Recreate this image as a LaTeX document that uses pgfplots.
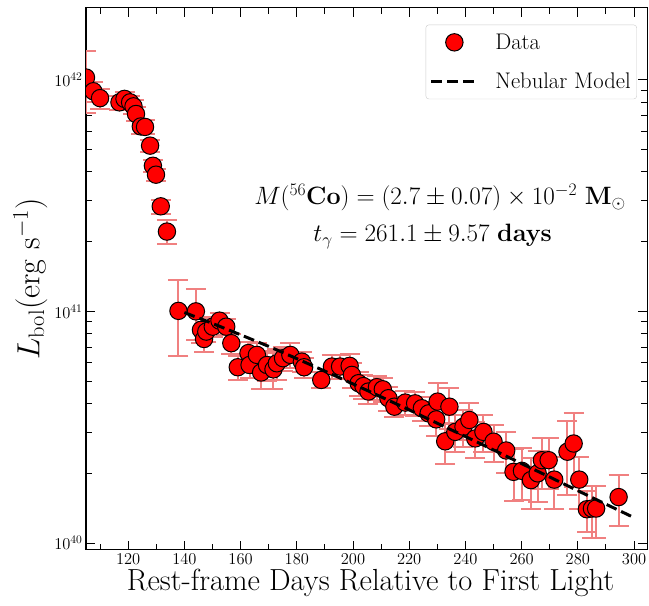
\documentclass[border=0pt]{standalone}
\usepackage{fix-cm}
\usepackage{pgfplots}
\usepackage{pgfplotstable}
\pgfplotsset{compat=1.18}
\pgfplotsset{clip marker paths=true}
\definecolor{errc}{HTML}{F08080}
\pgfplotsset{
  dataleg/.style={legend image code/.code={\draw[##1] plot coordinates {(23pt,0pt)}; \path[draw=none,fill=none] (0pt,0pt) -- (62pt,0pt);}},
  lineleg/.style={legend image code/.code={\draw[##1] (0pt,0pt) -- (45pt,0pt); \path[draw=none,fill=none] (0pt,0pt) -- (62pt,0pt);}},
}
\pgfplotstableread{
x y e
105.0 1.021e42 0.30
107.6 8.91e41 0.10
110.0 8.32e41 0.10
116.9 7.98e41 0.07
118.7 8.26e41 0.07
120.7 7.98e41 0.07
121.9 7.67e41 0.07
122.8 7.11e41 0.07
124.5 6.28e41 0.07
126.0 6.25e41 0.07
127.8 5.19e41 0.06
128.8 4.25e41 0.06
129.9 3.89e41 0.06
131.6 2.84e41 0.07
133.8 2.21e41 0.12
137.9 1.005e41 0.36
144.1 1.00e41 0.25
145.9 8.32e40 0.12
147.0 7.60e40 0.12
147.8 8.18e40 0.10
150.1 8.59e40 0.10
152.5 9.12e40 0.08
154.9 8.59e40 0.08
156.7 7.29e40 0.10
159.0 5.74e40 0.12
162.8 6.61e40 0.12
163.2 5.87e40 0.12
165.8 6.49e40 0.12
167.3 5.45e40 0.15
169.4 5.87e40 0.15
171.7 5.62e40 0.18
172.9 5.97e40 0.15
175.1 6.28e40 0.12
177.7 6.49e40 0.12
181.8 6.07e40 0.10
182.6 5.74e40 0.10
188.7 5.06e40 0.08
192.5 5.78e40 0.12
195.4 5.78e40 0.12
198.8 5.82e40 0.12
199.6 5.32e40 0.12
202.0 4.90e40 0.12
203.7 4.76e40 0.12
205.5 4.51e40 0.12
208.5 4.71e40 0.12
210.6 4.61e40 0.12
212.6 4.22e40 0.12
214.7 3.88e40 0.10
218.6 4.04e40 0.12
222.1 4.01e40 0.12
224.5 3.82e40 0.12
226.9 3.63e40 0.12
229.6 3.42e40 0.15
230.1 4.08e40 0.20
232.8 2.75e40 0.20
234.3 3.88e40 0.20
236.4 3.02e40 0.18
239.3 3.18e40 0.18
241.4 3.40e40 0.18
243.5 2.83e40 0.18
246.4 3.02e40 0.18
250.0 2.74e40 0.18
254.5 2.51e40 0.20
257.1 2.03e40 0.25
260.1 2.05e40 0.25
263.3 1.87e40 0.25
265.7 2.00e40 0.25
267.2 2.28e40 0.25
269.6 2.28e40 0.25
271.6 1.88e40 0.25
276.3 2.48e40 0.35
278.5 2.69e40 0.35
280.5 1.88e40 0.25
283.2 1.40e40 0.20
285.0 1.41e40 0.25
286.5 1.41e40 0.25
294.5 1.58e40 0.25
}\datatable
\pgfplotstableread{
x y
140 9.886e40
150 8.872e40
160 7.925e40
170 7.063e40
180 6.252e40
190 5.521e40
200 4.864e40
210 4.276e40
220 3.758e40
230 3.289e40
240 2.884e40
250 2.523e40
260 2.203e40
270 1.928e40
280 1.683e40
290 1.472e40
300 1.288e40
}\modeltable
\begin{document}
\begin{tikzpicture}
\begin{axis}[
  scale only axis, width=561pt, height=542pt,
  xmin=105, xmax=304.6,
  ymode=log, ymin=9.35e39, ymax=2.04e42,
  xtick={120,140,...,300}, minor xtick={110,130,...,290},
  ytick={1e40,1e41,1e42},
  tick align=inside, xtick pos=both, ytick pos=both,
  major tick length=9pt, minor tick length=6pt,
  every tick/.style={black, line width=1pt},
  axis line style={line width=1pt},
  clip=true, clip marker paths=true,
  tick label style={font=\fontsize{16.5}{18}\selectfont},
  xlabel={Rest-frame Days Relative to First Light},
  ylabel={$L_{\rm bol}({\rm erg\ s^{-1}})$},
  xlabel style={font=\fontsize{30.5}{32}\selectfont, yshift=2pt, xshift=4pt},
  ylabel style={font=\fontsize{32}{36}\selectfont},
  legend style={at={(0.982,0.969)}, anchor=north east, draw=black!20, rounded corners=3pt,
    font=\fontsize{22.6}{26}\selectfont, row sep=18pt, inner xsep=4pt, inner ysep=7pt},
  legend cell align=left,
]
\addplot[only marks, mark=none, forget plot,
  error bars/.cd, y dir=both, y explicit relative,
  error bar style={line width=2pt, color=errc},
  error mark options={color=errc, line width=2pt, mark size=10pt, rotate=90}]
  table[x=x, y=y, y error=e] {\datatable};
\addplot[only marks, mark=*, mark size=8.7pt, mark options={fill=red, draw=black, line width=1pt}, dataleg]
  table[x=x, y=y] {\datatable};
\addlegendentry{Data}
\addplot[black, line width=3pt, dash pattern=on 11pt off 5pt, lineleg]
  table[x=x, y=y] {\modeltable};
\addlegendentry{Nebular Model}
\node[font=\fontsize{25.1}{28}\selectfont] at (rel axis cs:0.631,0.6494)
  {$M(^{56}\mathbf{Co}) = (2.7 \pm 0.07) \times 10^{-2}\ \mathbf{M}_{\odot}$};
\node[font=\fontsize{25.1}{28}\selectfont] at (rel axis cs:0.618,0.5775)
  {$t_{\gamma} = 261.1 \pm 9.57\ \mathbf{days}$};
\end{axis}
\pgfresetboundingbox
\path ([shift={(-86pt,-56pt)}]current axis.south west) rectangle ([shift={(2pt,8pt)}]current axis.north east);
\end{tikzpicture}
\end{document}
